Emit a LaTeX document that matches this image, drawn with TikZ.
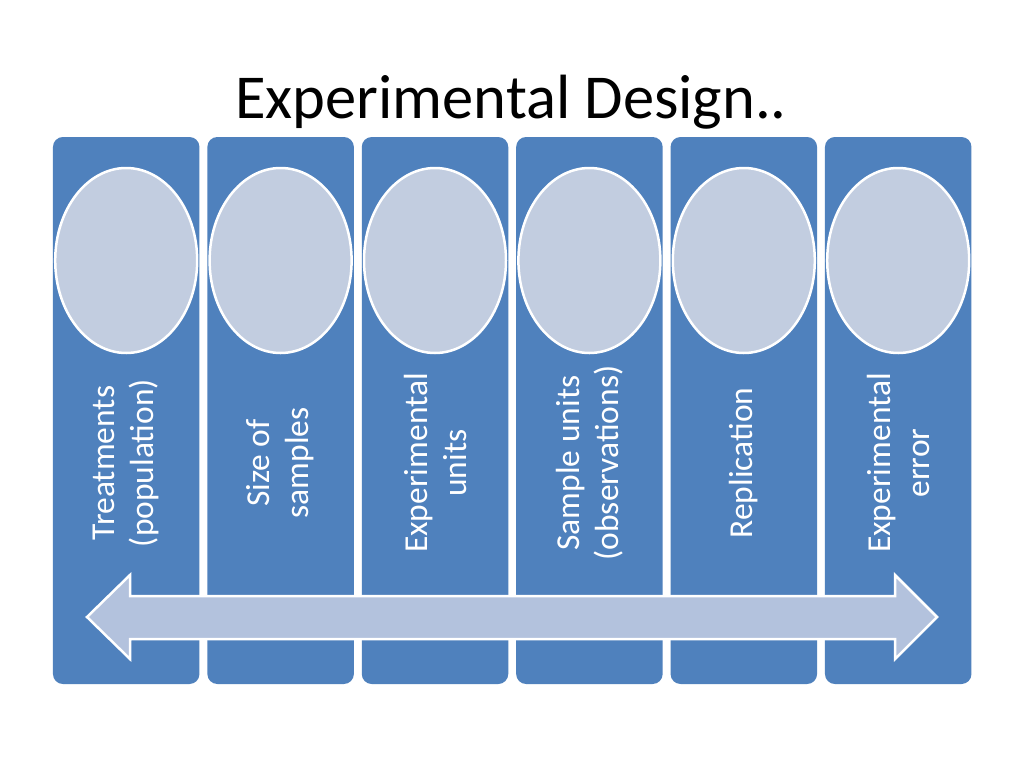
\documentclass[tikz,border=0pt]{standalone}
\usepackage{fontspec}
\setmainfont{Carlito}
\usepackage{tikz}
\usetikzlibrary{calc, shapes.geometric}

\definecolor{colblue}{HTML}{4F81BD}
\definecolor{ovalfill}{HTML}{C2CDE0}
\definecolor{arrowfill}{HTML}{B3C2DD}

\tikzset{
	column/.style = {rectangle, rounded corners = 10pt, fill = colblue, minimum width = 146.5pt, minimum height = 547pt, inner sep = 0pt},
	oval/.style = {ellipse, fill = ovalfill, draw = white, line width = 2.5pt, minimum width = 142pt, minimum height = 185pt, inner sep = 0pt},
	coltext/.style = {rotate = 90, align = center, text = white, font = \fontsize{33.5}{39}\selectfont},
}

\begin{document}
\begin{tikzpicture}[x = 1pt, y = -1pt]
			\def\xO{126.2};
			\def\p{154.4};
			\def\yC{410.5};
			\def\yO{260.5};
			\def\yL{463};

			\useasboundingbox [fill = white] (0,0) rectangle (1024,768);

			\begin{scope}
				\node [anchor = base, font = \fontsize{62.5}{70}\selectfont] (title) at (511,118) {Experimental Design..};
			\end{scope}

			\begin{scope}
				\node [column] (col1) at (\xO,\yC) {};
				\node [column] (col2) at (\xO+\p,\yC) {};
				\node [column] (col3) at (\xO+2*\p,\yC) {};
				\node [column] (col4) at (\xO+3*\p,\yC) {};
				\node [column] (col5) at (\xO+4*\p,\yC) {};
				\node [column] (col6) at (\xO+5*\p,\yC) {};
			\end{scope}

			\begin{scope}
				\node [oval] (oval1) at (\xO,\yO) {};
				\node [oval] (oval2) at (\xO+\p,\yO) {};
				\node [oval] (oval3) at (\xO+2*\p,\yO) {};
				\node [oval] (oval4) at (\xO+3*\p,\yO) {};
				\node [oval] (oval5) at (\xO+4*\p,\yO) {};
				\node [oval] (oval6) at (\xO+5*\p,\yO) {};
			\end{scope}

			\begin{scope}
				\node [coltext] (txt1) at (\xO,\yL) {Treatments\\(population)};
				\node [coltext] (txt2) at (\xO+\p,\yL) {Size of\\samples};
				\node [coltext] (txt3) at (\xO+2*\p,\yL) {Experimental\\units};
				\node [coltext] (txt4) at (\xO+3*\p,\yL) {Sample units\\(observations)};
				\node [coltext] (txt5) at (\xO+4*\p,\yL) {Replication};
				\node [coltext] (txt6) at (\xO+5*\p,\yL) {Experimental\\error};
			\end{scope}

			\begin{scope}[line join = miter]
				\draw [fill = arrowfill, draw = white, line width = 2.5pt]
					(87,617) -- (130,575) -- (130,596) -- (895,596) -- (895,575) -- (937,617)
					-- (895,659) -- (895,639) -- (130,639) -- (130,659) -- cycle;
			\end{scope}
		\end{tikzpicture}
\end{document}
